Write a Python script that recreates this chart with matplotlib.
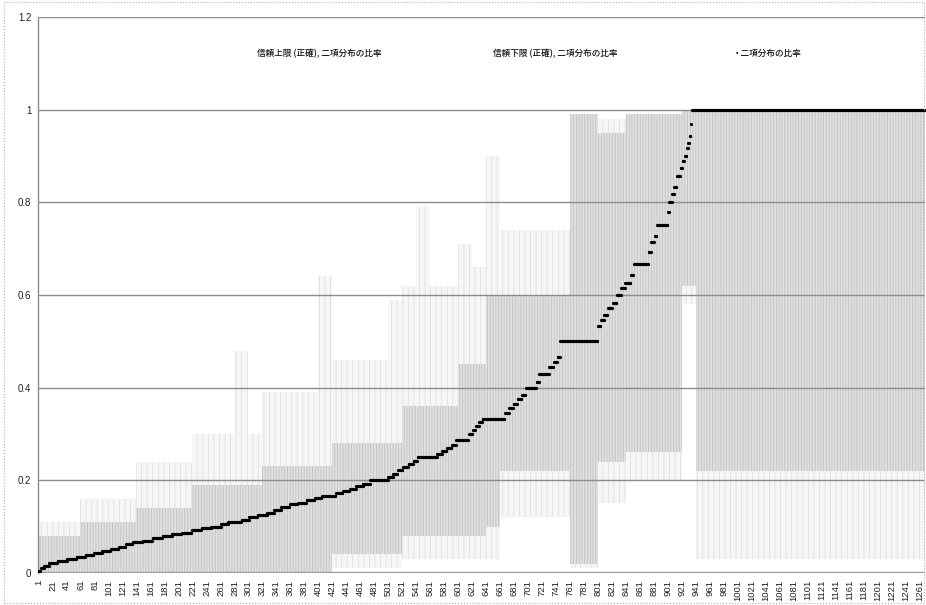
import matplotlib
matplotlib.use("Agg")
import matplotlib.pyplot as plt
import numpy as np
from matplotlib.patches import Rectangle

plt.rcParams['font.family'] = ['Noto Sans CJK JP', 'DejaVu Sans']
plt.rcParams['hatch.linewidth'] = 0.6

# number of samples (categories) on the x axis
n_items = 1268

# sorted binomial proportions, run-length form: value holds from step_start
# until the next start
step_start = [1, 4, 9, 16, 28, 42, 55, 68, 80, 92, 104, 116, 126, 136, 150,
              164, 178, 192, 206, 220, 234, 248, 262, 272, 291, 302, 314, 328,
              338, 348, 360, 372, 384, 396, 406, 426, 436, 446, 455, 465, 475,
              501, 508, 515, 522, 530, 537, 543, 571, 578, 585, 592, 598, 616,
              622, 626, 631, 636, 668, 674, 680, 686, 692, 698, 713, 717, 731,
              738, 743, 747, 801, 805, 810, 815, 822, 828, 834, 840, 848, 852,
              873, 877, 882, 885, 901, 903, 907, 910, 914, 919, 922, 925, 928,
              930, 932, 934, 935]
step_value = [0.004, 0.010, 0.016, 0.021, 0.025, 0.029, 0.034, 0.038, 0.042,
              0.047, 0.052, 0.057, 0.062, 0.066, 0.070, 0.075, 0.079, 0.083,
              0.087, 0.092, 0.096, 0.100, 0.105, 0.111, 0.115, 0.120, 0.125,
              0.130, 0.136, 0.142, 0.148, 0.152, 0.157, 0.161, 0.167, 0.172,
              0.177, 0.182, 0.187, 0.193, 0.200, 0.207, 0.214, 0.222, 0.229,
              0.235, 0.241, 0.250, 0.256, 0.263, 0.270, 0.276, 0.286, 0.300,
              0.308, 0.318, 0.325, 0.333, 0.346, 0.357, 0.364, 0.375, 0.385,
              0.400, 0.412, 0.429, 0.444, 0.455, 0.467, 0.500, 0.533, 0.545,
              0.556, 0.571, 0.583, 0.600, 0.615, 0.625, 0.643, 0.667, 0.692,
              0.714, 0.727, 0.750, 0.778, 0.800, 0.818, 0.833, 0.857, 0.875,
              0.889, 0.900, 0.917, 0.929, 0.944, 0.969, 1.000]

# confidence band read per block of 20 samples (block g = samples 20g+1..20g+20)
light_lo = [0.0] * 21 + [0.01] * 5 + [0.03] * 6 + [0.03] + [0.12] * 5 + \
           [0.01] * 2 + [0.15] * 2 + [0.20] * 4 + [0.58] + [0.03] * 17
light_hi = [0.11] * 3 + [0.16] * 4 + [0.24] * 4 + [0.30] * 3 + [0.48, 0.30] + \
           [0.39] * 4 + [0.64] + [0.46] * 4 + [0.59, 0.62, 0.79, 0.62, 0.62,
                                                0.71, 0.66, 0.90] + \
           [0.74] * 5 + [0.99] * 2 + [0.98] * 2 + [0.99] * 4 + [1.0] + [1.0] * 17
dense_lo = [0.0] * 21 + [0.04] * 5 + [0.08] * 6 + [0.10] + [0.22] * 5 + \
           [0.02] * 2 + [0.24] * 2 + [0.26] * 4 + [0.62] + [0.22] * 17
dense_hi = [0.08] * 3 + [0.11] * 4 + [0.14] * 4 + [0.19] * 5 + [0.23] * 5 + \
           [0.28] * 5 + [0.36] * 4 + [0.45] * 2 + [0.60] + [0.60] * 5 + \
           [0.99] * 2 + [0.95] * 2 + [0.99] * 4 + [1.0] + [1.0] * 17

tick_labels = [str(v) for v in range(1, n_items + 1, 20)]
legend_labels = ["信頼上限 (正確), 二項分布の比率",
                 "信頼下限 (正確), 二項分布の比率",
                 "・二項分布の比率"]

# expand data to per-sample arrays
idx = np.arange(1, n_items + 1)
starts = np.array(step_start + [n_items + 1])
proportion = np.repeat(step_value, np.diff(starts))

band_x = np.arange(len(light_lo)) * 20 + 0.5
band_x = np.append(band_x, band_x[-1] + 20)


def stepped(vals):
    return np.append(vals, vals[-1])


fig = plt.figure(figsize=(9.26, 6.05), dpi=100)
ax = fig.add_axes([0.0415, 0.053, 0.9575, 0.919])

ax.fill_between(band_x, stepped(light_lo), stepped(light_hi), step="post",
                facecolor="#f6f6f6", edgecolor="#e0e0e0", hatch="|||",
                linewidth=0, zorder=1)
ax.fill_between(band_x, stepped(dense_lo), stepped(dense_hi), step="post",
                facecolor="#e0e0e0", edgecolor="#c2c2c2", hatch="||||||",
                linewidth=0, zorder=1.1)

for y in np.arange(0.2, 1.21, 0.2):
    ax.axhline(y, color="#8c8c8c", linewidth=1.0, zorder=2)
ax.axhline(0, color="#9a9a9a", linewidth=2.4, zorder=2)

ax.plot(idx, proportion, "o", color="black", markersize=2.3,
        markeredgewidth=0, zorder=3)

ax.set_xlim(0.5, n_items + 0.5)
ax.set_ylim(0, 1.2)
ax.set_xticks(range(1, n_items + 1, 20))
ax.set_xticklabels(tick_labels, rotation=90, fontsize=6.8,
                   family="Liberation Sans", color="#222222")
ax.set_yticks([0, 0.2, 0.4, 0.6, 0.8, 1.0, 1.2])
ax.set_yticklabels(["0", "0.2", "0.4", "0.6", "0.8", "1", "1.2"],
                   fontsize=7, family="Liberation Sans", color="#222222")
ax.tick_params(length=0, pad=5)
for side in ["top", "right", "bottom"]:
    ax.spines[side].set_visible(False)
ax.spines["left"].set_color("#8c8c8c")
ax.spines["left"].set_linewidth(1.0)

legend_x = [0.246, 0.513, 0.783]
for lx, text in zip(legend_x, legend_labels):
    ax.text(lx, 0.935, text, transform=ax.transAxes, fontsize=6.2,
            ha="left", va="center", color="#111111", weight="medium")

fig.patches.append(Rectangle((0.004, 0.003), 0.994, 0.993,
                             transform=fig.transFigure, fill=False,
                             edgecolor="#b0b0b0", linewidth=0.8,
                             linestyle=":"))

fig.savefig("out.png", dpi=100)
